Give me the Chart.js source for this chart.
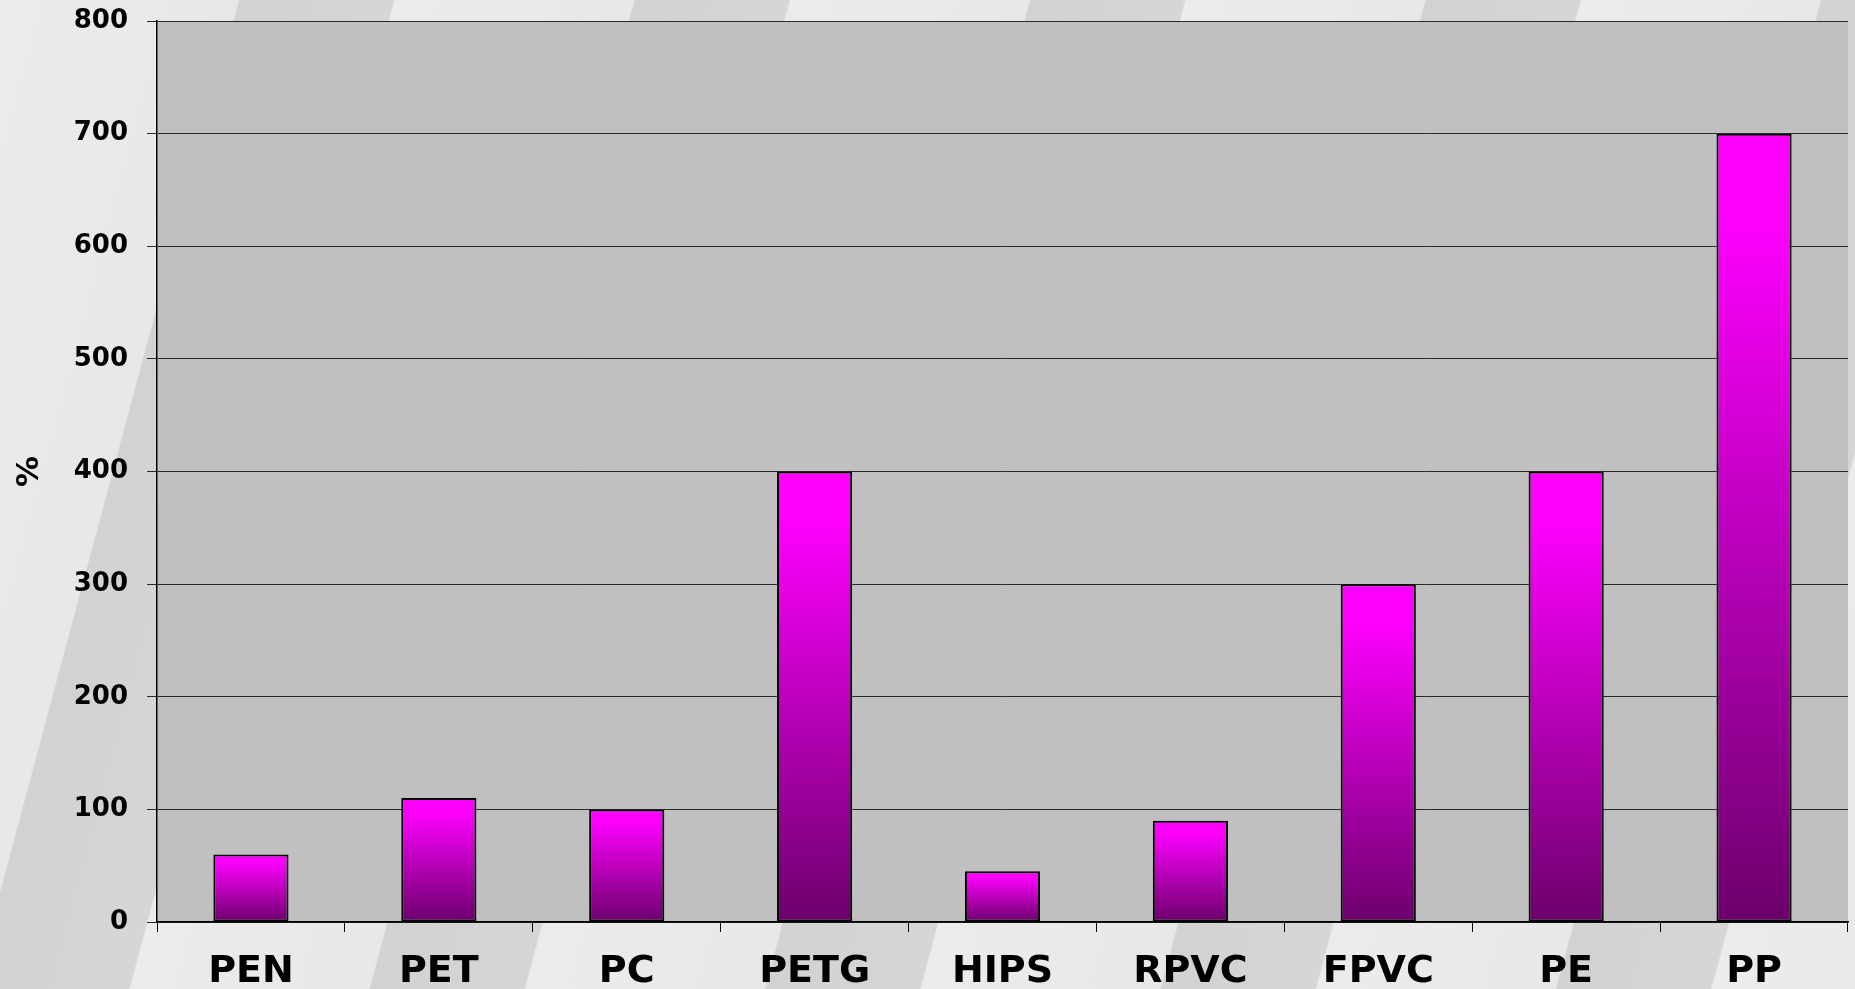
<!DOCTYPE html>
<html>
<head>
<meta charset="utf-8">
<script src="https://cdn.jsdelivr.net/npm/chart.js@4"></script>
<style>
  html, body { margin: 0; padding: 0; }
  body {
    width: 1855px; height: 989px; overflow: hidden;
    background: repeating-linear-gradient(105deg, #ececec 0px, #e8e8e8 230px, #d2d2d2 232px, #d6d6d6 380px, #ececec 382px);
  }
  #wrap { width: 1855px; height: 989px; }
</style>
</head>
<body>
<div id="wrap"><canvas id="chart"></canvas></div>
<script>
const categories = ["PEN", "PET", "PC", "PETG", "HIPS", "RPVC", "FPVC", "PE", "PP"];
const elongation = [60, 110, 100, 400, 45, 90, 300, 400, 700];
const yMax = 800;
const yStep = 100;

const ctx = document.getElementById("chart");

Chart.defaults.font.family = "'DejaVu Sans', sans-serif";
Chart.defaults.font.weight = "bold";
Chart.defaults.color = "#000";

// grey plot background
const plotBg = {
  id: "plotBg",
  beforeDraw(chart) {
    const { ctx, chartArea: a } = chart;
    ctx.save();
    ctx.fillStyle = "#c0c0c0";
    ctx.fillRect(a.left, a.top, a.right - a.left, a.bottom - a.top);
    ctx.restore();
  }
};

function barFill(c) {
  const chart = c.chart;
  const y = chart.scales.y;
  if (!y || !chart.chartArea || c.raw == null) return "#ff00ff";
  const top = y.getPixelForValue(c.raw);
  const bottom = y.getPixelForValue(0);
  if (!isFinite(top) || !isFinite(bottom) || bottom - top < 1) return "#ff00ff";
  const g = chart.ctx.createLinearGradient(0, top, 0, bottom);
  g.addColorStop(0, "#ff00ff");
  g.addColorStop(0.12, "#fb00fb");
  g.addColorStop(1, "#6c006c");
  return g;
}

new Chart(ctx, {
  type: "bar",
  data: {
    labels: categories,
    datasets: [
      {
        data: elongation,
        backgroundColor: barFill,
        borderColor: "#000",
        borderWidth: 2,
        borderSkipped: false,
        barPercentage: 0.4,
        categoryPercentage: 1.0,
      },
    ],
  },
  plugins: [plotBg],
  options: {
    responsive: true,
    maintainAspectRatio: false,
    animation: false,
    layout: {
      padding: { top: 21, right: 7, left: 0, bottom: 0 },
    },
    plugins: {
      legend: { display: false },
      tooltip: { enabled: false },
    },
    scales: {
      x: {
        afterFit(scale) { scale.height = 67; },
        grid: {
          offset: true,
          drawOnChartArea: false,
          drawTicks: true,
          tickLength: 10,
          color: "#000",
        },
        border: { color: "#000", width: 1.5 },
        ticks: {
          font: { size: 38, weight: "bold" },
          padding: 17,
          maxRotation: 0,
        },
      },
      y: {
        min: 0,
        max: yMax,
        afterFit(scale) {
          scale.width = 157;
          scale.paddingTop = 0;
          scale.paddingBottom = 0;
        },
        grid: {
          color: "#2a2a2a",
          tickLength: 10,
        },
        border: { color: "#000", width: 1.5 },
        ticks: {
          stepSize: yStep,
          font: { size: 26, weight: "bold" },
          padding: 19,
        },
        title: {
          display: true,
          text: "%",
          font: { size: 31, weight: "bold" },
          padding: { top: 11, bottom: 0 },
        },
      },
    },
  },
});
</script>
</body>
</html>
